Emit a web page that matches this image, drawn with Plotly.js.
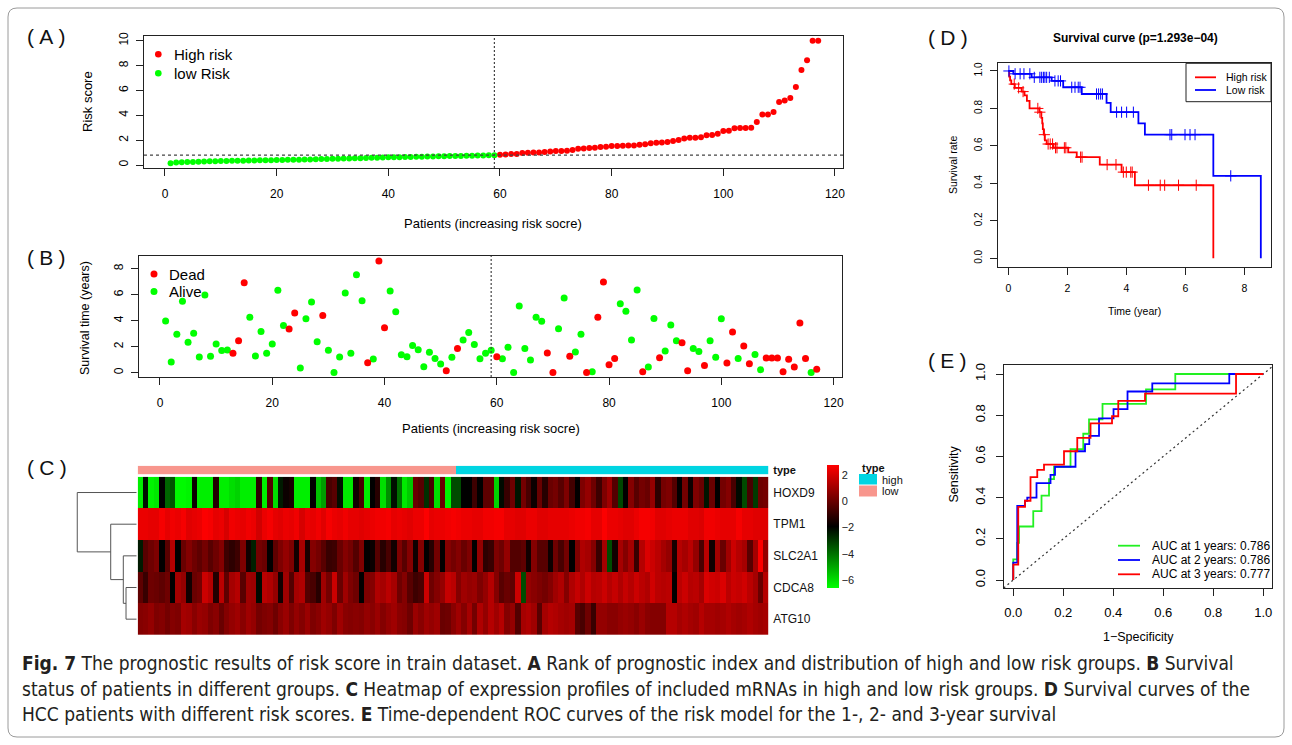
<!DOCTYPE html>
<html><head><meta charset="utf-8">
<script src="https://cdn.plot.ly/plotly-3.0.1.min.js"></script>
<style>html,body{margin:0;padding:0;background:#fff;}#chart{width:1292px;height:745px;}</style>
</head><body><div id="chart"></div>
<script>
// ---------------- DATA ----------------
const lowRiskScore = [0.14,0.20,0.22,0.24,0.25,0.27,0.28,0.30,0.31,0.32,0.33,0.34,0.35,0.35,0.36,0.37,0.38,0.38,0.39,0.40,
  0.41,0.42,0.43,0.43,0.44,0.45,0.46,0.48,0.49,0.50,0.51,0.52,0.53,0.54,0.55,0.56,0.58,0.59,0.60,0.62,
  0.63,0.63,0.64,0.65,0.66,0.67,0.68,0.69,0.70,0.71,0.72,0.72,0.73,0.74,0.75,0.76,0.77,0.78,0.79];
const highRiskScore = [0.83,0.85,0.88,0.88,0.96,0.99,1.0,1.01,1.04,1.09,1.12,1.12,1.15,1.2,1.31,1.33,1.36,1.39,1.44,1.47,
  1.52,1.52,1.55,1.58,1.58,1.63,1.68,1.76,1.79,1.82,1.85,1.93,2.01,2.14,2.2,2.2,2.23,2.39,2.41,2.52,
  2.74,2.76,2.95,2.98,2.98,3.0,3.46,4.07,4.07,4.26,5.07,5.2,5.39,6.27,7.64,8.42,10.0,10.0];
const riskCutoff = 0.80;

const survivalYears = [3.98,0.82,2.96,5.5,2.34,3.03,1.21,5.98,1.26,2.2, 1.7,1.75,1.49,2.46,6.93,4.26,1.28,3.18,1.49,2.2,
  6.34,3.64,3.36,4.6,0.36,4.15,5.44,2.39,4.41,1.72, 0.02,1.21,6.13,1.49,7.54,5.54,0.77,1.05,8.59,3.46,
  6.28,4.69,1.39,1.23,2.1,1.77,0.46,1.57,1.1,0.67, 0.15,1.18,1.87,2.52,3.1,2.18,1.08,1.49,1.72,1.23,
  1.08,1.95,0.02,5.13,1.87,0.98,4.26,3.95,1.52,0.02, 3.39,5.75,1.26,1.59,2.95,0.02,0.08,4.26,6.98,0.62,
  1.1,5.31,4.72,2.52,6.36,0.08,0.44,4.18,1.16,1.67, 3.67,2.46,2.31,0.15,1.87,1.64,0.56,2.46,1.18,4.15,
  0.74,3.13,1.1,2.05,0.69,1.41,0.23,1.13,1.13,1.13, 0.08,1.03,0.44,3.82,1.1,0.02,0.26];
const deadStatus = [0,0,0,0,0,0,0,0,0,0, 0,0,1,1,1,0,0,0,0,0, 0,0,1,1,0,0,0,0,1,0, 0,0,0,0,0,0,1,0,1,1,
  0,0,0,0,0,0,0,0,0,0, 1,0,1,0,0,0,0,0,0,1, 0,0,0,0,0,0,0,0,1,1, 0,0,1,0,0,1,0,1,1,1,
  1,0,0,0,0,1,0,0,1,0, 0,0,1,1,0,0,1,0,0,0, 1,1,0,1,1,0,0,1,1,1, 1,1,1,1,1,0,1];

const genes = ['HOXD9','TPM1','SLC2A1','CDCA8','ATG10'];
const exprHOXD9 = [-6.3,-2.2,-6.4,-6.2,-1.9,-3.8,-3.5,-6.5,-6.5,-6.4,-1.7,-6.3,-6.3,-6.3,-1.3,-6.3,-6.3,-6.0,-5.8,-6.3,-6.3,-6.3,-1.1,-6.3,-0.4,-6.0,-2.4,-1.7,-1.5,-6.3,-6.3,-6.3,-1.9,-5.5,-4.8,-0.6,-0.3,-2.2,-6.2,
  -6.2,-1.6,-0.6,-6.3,-1.9,-1.2,-6.0,-4.5,-2.2,-4.0,-6.2,-5.6,0.0,-0.3,-2.8,-0.6,-6.0,0.0,-6.4,-3.3,-3.3,-1.9,-1.9,-0.8,-1.9,-0.2,-0.2,-5.8,-2.1,-0.9,0.1,-2.3,0.2,-0.6,-1.7,0.0,-1.2,0.0,0.2,
  -0.3,0.4,-0.7,-1.9,0.4,0.8,0.1,-0.8,0.4,1.0,-0.4,-3.2,-1.9,0.5,-0.3,0.2,0.0,0.8,-1.1,0.2,0.4,-0.4,-1.9,0.2,-1.7,0.4,0.0,-2.3,0.0,-1.9,0.2,0.5,-0.6,-2.1,-3.3,-0.6,-3.0,0.1,0.2];
const exprTPM1 = [2.4,2.4,2.3,2.3,2.6,2.3,2.5,2.4,2.6,2.2,2.3,2.4,2.7,2.6,2.3,2.4,2.0,2.5,2.4,2.3,2.5,2.4,1.9,2.4,2.6,2.3,2.2,2.4,2.3,2.5,2.0,2.4,2.3,2.5,2.2,2.6,2.4,2.3,2.5,
  2.3,2.3,2.2,2.3,2.4,2.5,2.5,2.6,2.3,2.4,2.3,2.2,2.4,2.4,2.7,2.3,2.4,2.4,2.5,2.6,2.5,2.4,2.4,2.3,2.3,2.5,2.5,2.6,2.6,2.3,2.3,2.2,2.2,2.4,2.4,2.2,2.2,2.3,2.3,
  2.3,2.3,2.4,2.5,2.5,2.6,2.3,2.3,2.7,2.4,2.4,2.3,2.2,2.2,2.4,2.6,2.6,2.5,2.2,2.2,2.3,2.4,2.4,2.4,2.2,2.2,2.1,2.5,2.5,2.4,2.3,2.3,2.3,2.6,2.3,2.3,2.2,2.2,2.2];
const exprSLC2A1 = [-2.4,-0.3,0.1,0.4,-1.9,-0.3,1.4,-1.9,0.0,0.5,0.1,-0.2,0.2,-0.3,0.1,0.5,-0.8,-1.1,-0.8,0.4,-1.6,-2.5,0.2,0.0,-1.9,-0.2,0.4,0.8,0.4,-1.6,1.1,-1.5,0.5,0.2,-0.3,-0.9,-0.8,0.0,0.5,
  0.2,-0.4,0.4,-1.9,-1.7,-0.3,-1.2,-0.6,-1.6,0.4,-0.3,0.5,-1.7,0.5,-1.9,-1.2,0.2,-1.9,0.5,0.2,0.5,0.0,0.4,-1.9,0.8,-1.1,-0.9,0.4,0.1,0.8,-0.4,-0.4,-0.2,-1.6,0.5,-0.3,-0.3,-1.7,0.1,
  -0.6,0.2,-1.9,0.4,1.3,1.1,0.5,-0.9,1.1,-3.3,-1.6,1.1,0.5,1.1,-0.9,1.4,2.1,1.8,1.5,1.1,0.8,-1.5,1.4,1.1,1.5,0.8,-0.6,1.5,-1.6,1.1,0.0,1.0,1.8,1.4,1.1,-0.3,1.1,2.7,0.8];
const exprCDCA8 = [-0.2,-0.9,0.1,0.0,-0.2,0.1,-1.9,1.1,0.8,-1.6,0.0,0.2,1.8,1.4,-1.3,1.5,-0.2,1.1,1.4,-0.3,1.0,0.9,-2.1,1.5,1.3,0.8,-1.6,1.0,-0.4,1.1,1.3,-0.4,-0.6,-1.2,1.0,0.2,1.8,0.0,1.0,
  0.4,0.1,-1.9,0.4,0.5,1.3,1.1,1.5,1.1,0.1,0.5,-0.3,-0.8,-0.6,1.8,0.1,0.5,0.8,1.7,1.5,0.5,1.0,0.8,0.9,0.4,0.8,1.4,0.5,-0.3,0.0,-0.2,1.8,-3.3,0.8,0.6,0.4,0.2,0.5,1.0,
  1.3,0.5,1.3,1.7,1.3,1.8,1.4,1.5,1.8,1.4,1.7,1.3,1.7,1.4,1.8,1.5,1.3,1.9,1.5,1.4,1.5,-1.9,1.5,1.8,1.4,1.5,1.1,2.1,1.9,1.8,2.1,1.5,1.8,1.7,1.9,1.5,1.1,0.0,1.4];
const exprATG10 = [0.5,0.6,0.8,0.4,0.5,0.2,0.5,0.4,1.1,1.0,0.6,0.9,0.8,0.4,0.6,0.0,0.5,0.8,1.0,0.6,1.0,0.8,0.2,0.4,0.5,0.1,0.6,0.9,0.4,0.8,0.5,0.9,0.4,0.6,1.0,0.8,0.4,1.0,0.6,
  0.5,0.6,0.5,0.8,0.6,0.9,0.5,0.8,1.0,0.6,0.5,0.1,0.9,0.6,1.0,0.8,1.0,0.0,0.1,0.6,1.0,0.5,1.1,0.2,1.3,0.8,1.4,1.0,1.4,0.5,0.8,-0.4,1.1,1.3,1.0,-0.3,1.1,1.4,1.3,
  1.1,1.0,1.1,-0.3,-0.6,0.1,-0.9,0.8,0.8,0.6,0.6,0.8,0.9,0.8,0.6,0.9,0.6,0.5,0.5,0.5,1.4,1.4,1.1,1.3,1.1,1.0,1.4,1.1,1.1,1.0,1.1,1.3,1.1,1.0,1.1,1.3,1.1,1.0,1.1];
const exprMin = -6.6, exprMax = 2.76;
// hierarchical clustering merges [left, right, height]
const dendroMerges = [['CDCA8','ATG10',1.06],['SLC2A1','m1',1.33],['TPM1','m2',2.58],['HOXD9','m3',5.9]];

// Kaplan-Meier
const highEventTimes = [0.03,0.06,0.1,0.22,0.45,0.55,0.63,0.72,1.05,1.12,1.15,1.17,1.2,1.24,1.3,1.53,2.03,2.32,3.1,3.84,4.29,6.95];
const highSurv = [0.97,0.95,0.93,0.91,0.89,0.87,0.84,0.80,0.78,0.75,0.72,0.69,0.66,0.63,0.61,0.59,0.565,0.54,0.50,0.46,0.39,0.0];
const highCensor = [0.2,0.35,0.5,1.0,1.07,1.22,1.35,1.42,1.5,1.6,1.65,1.9,1.95,2.45,2.5,3.35,3.65,3.9,4.0,4.15,4.2,4.75,5.15,5.3,5.77,6.37];
const lowEventTimes = [0.17,0.79,1.47,1.86,2.49,3.33,3.47,4.41,4.63,6.95,8.56];
const lowSurv = [0.985,0.966,0.947,0.913,0.877,0.83,0.78,0.72,0.66,0.44,0.0];
const lowCensor = [0.02,0.23,0.40,0.53,0.73,0.88,1.07,1.13,1.19,1.24,1.30,1.39,1.58,1.69,1.77,2.15,2.26,2.37,2.43,2.99,3.06,3.13,3.19,3.67,3.84,4.01,4.24,5.48,5.54,5.99,6.16,6.33,7.54];
const kmPValue = '1.293e\u221204';

// ROC
const roc1Fpr = [0,0,0.016,0.016,0.023,0.023,0.08,0.08,0.113,0.113,0.143,0.143,0.163,0.163,0.229,0.229,0.28,0.28,0.303,0.303,0.357,0.357,0.531,0.531,0.648,0.648,1];
const roc1Tpr = [0,0.1,0.1,0.18,0.18,0.26,0.26,0.335,0.335,0.41,0.41,0.49,0.49,0.55,0.55,0.635,0.635,0.71,0.71,0.78,0.78,0.855,0.855,0.925,0.925,1,1];
const roc2Fpr = [0,0,0.016,0.016,0.047,0.047,0.056,0.056,0.093,0.093,0.149,0.149,0.167,0.167,0.249,0.249,0.287,0.287,0.304,0.304,0.343,0.343,0.401,0.401,0.457,0.457,0.556,0.556,0.864,0.864,1];
const roc2Tpr = [0,0.085,0.085,0.36,0.36,0.385,0.385,0.40,0.40,0.47,0.47,0.51,0.51,0.55,0.55,0.625,0.625,0.66,0.66,0.70,0.70,0.785,0.785,0.83,0.83,0.915,0.915,0.955,0.955,1,1];
const roc3Fpr = [0,0,0.02,0.02,0.047,0.047,0.069,0.069,0.096,0.096,0.123,0.123,0.203,0.203,0.256,0.256,0.309,0.309,0.395,0.395,0.42,0.42,0.527,0.527,0.891,0.891,1];
const roc3Tpr = [0,0.075,0.075,0.355,0.355,0.385,0.385,0.50,0.50,0.535,0.535,0.56,0.56,0.625,0.625,0.69,0.69,0.76,0.76,0.795,0.795,0.87,0.87,0.905,0.905,1,1];
const rocLabels = ['AUC at 1 years: 0.786','AUC at 2 years: 0.786','AUC at 3 years: 0.777'];
const panelLetters = ['A','B','C','D','E'];

// ---------------- HELPERS ----------------
const W = 1292, H = 745;
const FONT = "'Liberation Sans', Arial, sans-serif";
const px = x => x / W, py = y => 1 - y / H;
const dX = (a, b) => [a / W, b / W];
const dY = (top, bottom) => [1 - bottom / H, 1 - top / H];
const RED = '#FF0000', GREEN = '#00FF00', BLUE = '#0000FF';

function rAxis(o) {
  return Object.assign({showline: true, mirror: true, linecolor: '#222', linewidth: 1, ticks: 'outside', ticklen: 7,
    tickcolor: '#222', tickwidth: 1, showgrid: false, zeroline: false, fixedrange: true,
    tickfont: {family: FONT, size: 12, color: '#000'}}, o);
}
function ann(text, x, y, size, o) {
  return Object.assign({text, x: px(x), y: py(y), xref: 'paper', yref: 'paper', showarrow: false,
    xanchor: 'center', yanchor: 'middle', font: {family: FONT, size, color: '#000'}}, o || {});
}
function pline(x0, y0, x1, y1, color, w, dash) {
  return {type: 'line', xref: 'paper', yref: 'paper', x0: px(x0), y0: py(y0), x1: px(x1), y1: py(y1),
    line: {color, width: w, dash: dash || 'solid'}};
}
function prect(x0, y0, x1, y1, fill, lc, lw) {
  return {type: 'rect', xref: 'paper', yref: 'paper', x0: px(x0), y0: py(y0), x1: px(x1), y1: py(y1),
    fillcolor: fill, line: {color: lc || fill, width: lw || 0}};
}
function pdot(cx, cy, r, color) {
  return {type: 'circle', xref: 'paper', yref: 'paper', x0: px(cx - r), y0: py(cy + r), x1: px(cx + r), y1: py(cy - r),
    fillcolor: color, line: {width: 0}};
}

// ---------------- DERIVED ----------------
const riskScore = lowRiskScore.concat(highRiskScore);
const patientIndex = riskScore.map((_, i) => i + 1);
const isLow = riskScore.map(v => v < riskCutoff);
const lowCount = isLow.filter(Boolean).length;
const pick = (arr, f) => arr.filter((_, i) => f(i));

function stepXY(times, surv) {
  const x = [0], y = [1];
  times.forEach((t, i) => { x.push(t); y.push(surv[i]); });
  return {x, y};
}
function survAt(times, surv, t) {
  let s = 1;
  times.forEach((tt, i) => { if (tt <= t) s = surv[i]; });
  return s;
}

// dendrogram segments
const dendroY = {}; genes.forEach((g, i) => dendroY[g] = i);
const dendroH = {}; genes.forEach(g => dendroH[g] = 0);
const dx = [], dy = [];
dendroMerges.forEach((m, k) => {
  const [a, b, h] = m; const id = 'm' + (k + 1);
  dx.push(dendroH[a], h, h, dendroH[b], null);
  dy.push(dendroY[a], dendroY[a], dendroY[b], dendroY[b], null);
  dendroY[id] = (dendroY[a] + dendroY[b]) / 2; dendroH[id] = h;
});

const traces = [];
// Panel A
traces.push({type: 'scatter', mode: 'markers', xaxis: 'x', yaxis: 'y', x: pick(patientIndex, i => !isLow[i]),
  y: pick(riskScore, i => !isLow[i]), marker: {color: RED, size: 6}, name: 'High risk', showlegend: false, hoverinfo: 'skip'});
traces.push({type: 'scatter', mode: 'markers', xaxis: 'x', yaxis: 'y', x: pick(patientIndex, i => isLow[i]),
  y: pick(riskScore, i => isLow[i]), marker: {color: GREEN, size: 6}, name: 'low Risk', showlegend: false, hoverinfo: 'skip'});
// Panel B
traces.push({type: 'scatter', mode: 'markers', xaxis: 'x2', yaxis: 'y2', x: pick(patientIndex, i => deadStatus[i] === 0),
  y: pick(survivalYears, i => deadStatus[i] === 0), marker: {color: GREEN, size: 7}, name: 'Alive', showlegend: false, hoverinfo: 'skip'});
traces.push({type: 'scatter', mode: 'markers', xaxis: 'x2', yaxis: 'y2', x: pick(patientIndex, i => deadStatus[i] === 1),
  y: pick(survivalYears, i => deadStatus[i] === 1), marker: {color: RED, size: 7}, name: 'Dead', showlegend: false, hoverinfo: 'skip'});
// Panel C heatmap
traces.push({type: 'heatmap', xaxis: 'x3', yaxis: 'y3', x: patientIndex, y: genes,
  z: [exprHOXD9, exprTPM1, exprSLC2A1, exprCDCA8, exprATG10], zmin: exprMin, zmax: exprMax,
  colorscale: [[0, '#00FF00'], [0.5, '#000000'], [1, '#FF0000']], hoverinfo: 'skip',
  colorbar: {x: px(826.7), xanchor: 'left', xref: 'paper', y: py(465), yanchor: 'top', yref: 'paper', len: 123, lenmode: 'pixels',
    thickness: 11.6, thicknessmode: 'pixels', outlinewidth: 0, xpad: 0, ypad: 0, tickvals: [-6, -4, -2, 0, 2], ticks: '',
    tickfont: {family: FONT, size: 11, color: '#222'}}});
traces.push({type: 'heatmap', xaxis: 'x4', yaxis: 'y4', x: patientIndex, y: ['type'],
  z: [isLow.map(l => l ? 0 : 1)], zmin: 0, zmax: 1, showscale: false, hoverinfo: 'skip',
  colorscale: [[0, '#F8968D'], [0.5, '#F8968D'], [0.5, '#00D5E2'], [1, '#00D5E2']]});
traces.push({type: 'scatter', mode: 'lines', xaxis: 'x5', yaxis: 'y5', x: dx, y: dy,
  line: {color: '#555', width: 1}, hoverinfo: 'skip', showlegend: false});
// Panel D
const hs = stepXY(highEventTimes, highSurv), ls = stepXY(lowEventTimes, lowSurv);
traces.push({type: 'scatter', mode: 'lines', xaxis: 'x6', yaxis: 'y6', x: hs.x, y: hs.y, line: {color: RED, width: 1.8, shape: 'hv'}, hoverinfo: 'skip', showlegend: false});
traces.push({type: 'scatter', mode: 'lines', xaxis: 'x6', yaxis: 'y6', x: ls.x, y: ls.y, line: {color: BLUE, width: 1.8, shape: 'hv'}, hoverinfo: 'skip', showlegend: false});
traces.push({type: 'scatter', mode: 'markers', xaxis: 'x6', yaxis: 'y6', x: highCensor, y: highCensor.map(t => survAt(highEventTimes, highSurv, t)),
  marker: {symbol: 'cross-thin', size: 8, line: {color: RED, width: 1}}, hoverinfo: 'skip', showlegend: false});
traces.push({type: 'scatter', mode: 'markers', xaxis: 'x6', yaxis: 'y6', x: lowCensor, y: lowCensor.map(t => survAt(lowEventTimes, lowSurv, t)),
  marker: {symbol: 'cross-thin', size: 8, line: {color: BLUE, width: 1}}, hoverinfo: 'skip', showlegend: false});
// Panel E
traces.push({type: 'scatter', mode: 'lines', xaxis: 'x7', yaxis: 'y7', x: [-0.1, 1.1], y: [-0.1, 1.1], line: {color: '#333', width: 1.2, dash: '2px,3px'}, hoverinfo: 'skip', showlegend: false});
traces.push({type: 'scatter', mode: 'lines', xaxis: 'x7', yaxis: 'y7', x: roc1Fpr, y: roc1Tpr, line: {color: '#22F022', width: 1.8}, hoverinfo: 'skip', showlegend: false});
traces.push({type: 'scatter', mode: 'lines', xaxis: 'x7', yaxis: 'y7', x: roc2Fpr, y: roc2Tpr, line: {color: BLUE, width: 1.8}, hoverinfo: 'skip', showlegend: false});
traces.push({type: 'scatter', mode: 'lines', xaxis: 'x7', yaxis: 'y7', x: roc3Fpr, y: roc3Tpr, line: {color: RED, width: 1.8}, hoverinfo: 'skip', showlegend: false});

// ---------------- LAYOUT ----------------
const layout = {
  width: W, height: H, margin: {l: 0, r: 0, t: 0, b: 0}, paper_bgcolor: '#fff', plot_bgcolor: 'rgba(0,0,0,0)',
  showlegend: false, font: {family: FONT, color: '#000'},
  xaxis: rAxis({domain: dX(144, 843), range: [-3.76, 121.44], tickvals: [0, 20, 40, 60, 80, 100, 120], anchor: 'y', ticklabelstandoff: 8}),
  yaxis: rAxis({domain: dY(36, 168), range: [-0.24, 10.38], tickvals: [0, 2, 4, 6, 8, 10], anchor: 'x', tickangle: -90, ticklabelstandoff: 3}),
  xaxis2: rAxis({domain: dX(139, 842), range: [-3.74, 121.5], tickvals: [0, 20, 40, 60, 80, 100, 120], anchor: 'y2', ticklabelstandoff: 8}),
  yaxis2: rAxis({domain: dY(256, 377), range: [-0.33, 8.98], tickvals: [0, 2, 4, 6, 8], anchor: 'x2', tickangle: -90, ticklabelstandoff: 3}),
  xaxis3: {domain: dX(137.7, 768.3), range: [0.5, patientIndex.length + 0.5], anchor: 'y3', visible: false, fixedrange: true},
  yaxis3: {domain: dY(476.7, 635), autorange: 'reversed', anchor: 'x3', side: 'right', ticks: '', showline: false, showgrid: false, zeroline: false,
    ticklabelstandoff: 4, tickfont: {family: FONT, size: 12, color: '#111'}, fixedrange: true},
  xaxis4: {domain: dX(137.7, 768.3), range: [0.5, patientIndex.length + 0.5], anchor: 'y4', visible: false, fixedrange: true},
  yaxis4: {domain: dY(465.7, 474.3), anchor: 'x4', side: 'right', ticks: '', showline: false, showgrid: false, zeroline: false,
    ticklabelstandoff: 4, tickfont: {family: FONT, size: 11, color: '#111', weight: 'bold'}, fixedrange: true},
  xaxis5: {domain: dX(70, 136.7), range: [6.62, 0], anchor: 'y5', visible: false, fixedrange: true},
  yaxis5: {domain: dY(476.7, 635), range: [genes.length - 0.5, -0.5], anchor: 'x5', visible: false, fixedrange: true},
  xaxis6: rAxis({domain: dX(997.7, 1271), range: [-0.36, 8.905], tickvals: [0, 2, 4, 6, 8], anchor: 'y6', ticklabelstandoff: 5, tickfont: {family: FONT, size: 10.5, color: '#000'}}),
  yaxis6: rAxis({domain: dY(63.3, 266.7), range: [-0.045, 1.041], tickvals: [0, 0.2, 0.4, 0.6, 0.8, 1.0], tickformat: '.1f', anchor: 'x6', tickangle: -90, ticklabelstandoff: 4, tickfont: {family: FONT, size: 10, color: '#000'}}),
  xaxis7: rAxis({domain: dX(1004, 1272.3), range: [-0.037, 1.036], tickvals: [0, 0.2, 0.4, 0.6, 0.8, 1.0], tickformat: '.1f', anchor: 'y7', ticklabelstandoff: 5, tickfont: {family: FONT, size: 13, color: '#000'}}),
  yaxis7: rAxis({domain: dY(365, 588.3), range: [-0.040, 1.0437], tickvals: [0, 0.2, 0.4, 0.6, 0.8, 1.0], tickformat: '.1f', anchor: 'x7', tickangle: -90, ticklabelstandoff: 6, tickfont: {family: FONT, size: 13, color: '#000'}}),
  shapes: [], annotations: []
};

// frame (rounded)
(function () {
  const x0 = 8, y0 = 8, x1 = 1284, y1 = 737, r = 9;
  const P = (x, y) => px(x) + ',' + py(y);
  layout.shapes.push({type: 'path', xref: 'paper', yref: 'paper', line: {color: '#9a9a9a', width: 1},
    path: 'M' + P(x0 + r, y0) + ' L' + P(x1 - r, y0) + ' Q' + P(x1, y0) + ' ' + P(x1, y0 + r) + ' L' + P(x1, y1 - r) +
      ' Q' + P(x1, y1) + ' ' + P(x1 - r, y1) + ' L' + P(x0 + r, y1) + ' Q' + P(x0, y1) + ' ' + P(x0, y1 - r) +
      ' L' + P(x0, y0 + r) + ' Q' + P(x0, y0) + ' ' + P(x0 + r, y0) + ' Z'});
})();

// cut-off lines
layout.shapes.push({type: 'line', xref: 'x', yref: 'y domain', x0: lowCount, x1: lowCount, y0: 0, y1: 1, line: {color: '#444', width: 1.2, dash: '2px,2px'}});
layout.shapes.push({type: 'line', xref: 'x domain', yref: 'y', x0: 0, x1: 1, y0: riskCutoff, y1: riskCutoff, line: {color: '#444', width: 1.2, dash: '3px,3px'}});
layout.shapes.push({type: 'line', xref: 'x2', yref: 'y2 domain', x0: lowCount, x1: lowCount, y0: 0, y1: 1, line: {color: '#444', width: 1.2, dash: '2px,2px'}});

// legends A, B
layout.shapes.push(pdot(158.3, 54.3, 3.3, RED), pdot(158.3, 73.3, 3.3, GREEN));
layout.annotations.push(ann('High risk', 172, 54.5, 15, {xanchor: 'left'}), ann('low Risk', 172, 73.5, 15, {xanchor: 'left'}));
layout.shapes.push(pdot(154, 274, 3.5, RED), pdot(154, 291.5, 3.5, GREEN));
layout.annotations.push(ann('Dead', 167, 274, 15, {xanchor: 'left'}), ann('Alive', 167, 291.5, 15, {xanchor: 'left'}));

// type legend (C)
layout.annotations.push(ann('type', 860, 467.5, 11, {xanchor: 'left', font: {family: FONT, size: 11, color: '#111', weight: 'bold'}}));
layout.shapes.push(prect(859, 474, 877, 484.5, '#00D5E2'), prect(859, 485.5, 877, 496.5, '#F8968D'));
layout.annotations.push(ann('high', 879.5, 479.5, 11, {xanchor: 'left', font: {family: FONT, size: 11, color: '#111'}}),
  ann('low', 879.5, 491, 11, {xanchor: 'left', font: {family: FONT, size: 11, color: '#111'}}));

// legend D
layout.shapes.push(prect(1186, 63.3, 1271, 101.7, 'rgba(0,0,0,0)', '#222', 1));
layout.shapes.push(pline(1195, 77.3, 1216, 77.3, RED, 1.8), pline(1195, 90, 1216, 90, BLUE, 1.8));
layout.annotations.push(ann('High risk', 1224, 77.3, 10.5, {xanchor: 'left'}), ann('Low risk', 1224, 90, 10.5, {xanchor: 'left'}));

// legend E
[['#22F022', 545.7], [BLUE, 560], [RED, 574.3]].forEach((c, i) => {
  layout.shapes.push(pline(1118, c[1], 1140, c[1], c[0], 1.8));
  layout.annotations.push(ann(rocLabels[i], 1150, c[1], 12, {xanchor: 'left'}));
});

// axis titles
layout.annotations.push(
  ann('Patients (increasing risk socre)', 493, 224, 13),
  ann('Risk score', 88, 102, 13, {textangle: -90}),
  ann('Patients (increasing risk socre)', 491, 428.5, 13),
  ann('Survival time (years)', 85, 318, 12.5, {textangle: -90}),
  ann('<b>Survival curve (p=' + kmPValue + ')</b>', 1135, 38.5, 12),
  ann('Time (year)', 1134, 311.5, 10.5),
  ann('Survival rate', 953, 165, 10.5, {textangle: -90}),
  ann('1\u2212Specificity', 1138.5, 636.5, 12.5),
  ann('Sensitivity', 953, 474.5, 12.5, {textangle: -90})
);
// panel labels (wide-spaced parentheses like the original)
const panelPos = [[47, 37], [47, 257], [47, 467], [948, 38], [947, 360]];
panelLetters.forEach((L, i) => {
  layout.annotations.push(ann('(\u2005' + L + '\u2005)', panelPos[i][0], panelPos[i][1], 21, {font: {family: FONT, size: 21, color: '#111'}}));
});
// caption
const CAP = "'Liberation Sans Narrow', 'DejaVu Sans Condensed', 'Arial Narrow', sans-serif";
[
  ['<b>Fig. 7</b> The prognostic results of risk score in train dataset. <b>A</b> Rank of prognostic index and distribution of high and low risk groups. <b>B</b> Survival', 663],
  ['status of patients in different groups. <b>C</b> Heatmap of expression profiles of included mRNAs in high and low risk groups. <b>D</b> Survival curves of the', 689],
  ['HCC patients with different risk scores. <b>E</b> Time-dependent ROC curves of the risk model for the 1-, 2- and 3-year survival', 714]
].forEach(c => layout.annotations.push(ann(c[0], 20, c[1], 19, {xanchor: 'left', font: {family: CAP, size: 19, color: '#231f20'}})));

Plotly.newPlot('chart', traces, layout, {displayModeBar: false, staticPlot: true});
</script></body></html>
